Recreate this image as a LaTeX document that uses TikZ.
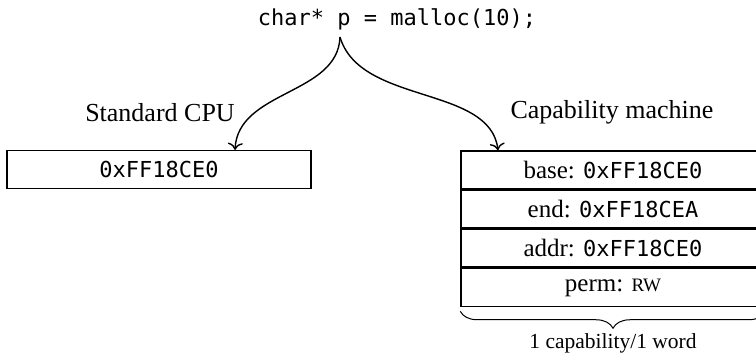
\documentclass[tikz,border=0pt]{standalone}
\usepackage{fontspec}
\setmainfont{Liberation Serif}
\setmonofont{DejaVu Sans Mono}
\usetikzlibrary{arrows.meta,decorations.pathreplacing}
\newcommand\cmono[1]{{\fontsize{22}{26}\ttfamily #1}}
\begin{document}
\begin{tikzpicture}[x=1pt,y=-1pt,
  serif/.style={font=\fontsize{26}{29}\selectfont},
  mono/.style={font=\fontsize{22}{26}\ttfamily},
  cell/.style={draw,line width=1.5pt,minimum width=304pt,minimum height=37.75pt,inner sep=0pt,font=\fontsize{25}{28}\selectfont},
  flow/.style={line width=1.4pt,-{Computer Modern Rightarrow[width=15pt,length=7pt]}},
  bracestyle/.style={line width=1pt,decorate,decoration={brace,mirror,amplitude=17pt}}]
\useasboundingbox (0,0) rectangle (756,355);
\node[mono] (code) at (397,19) {char* p = malloc(10);};
\coordinate (src) at (340,37);
\node[serif] (stdlbl) at (160,113) {Standard CPU};
\node[serif] (caplbl) at (612,112) {Capability machine};
\node[cell,font=\fontsize{22}{26}\ttfamily] (lbox) at (159,169.5) {0xFF18CE0};
\node[cell] (r1) at (613,169.875) {base: \cmono{0xFF18CE0}};
\node[cell,anchor=north] (r2) at (r1.south) {end: \cmono{0xFF18CEA}};
\node[cell,anchor=north] (r3) at (r2.south) {addr: \cmono{0xFF18CE0}};
\node[cell,anchor=north] (r4) at (r3.south) {perm: {\fontsize{19}{22}\selectfont RW}};
\draw[flow] (src) .. controls (338,95) and (238,90) .. ([xshift=76pt]lbox.north);
\draw[flow] (src) .. controls (360,105) and (490,85) .. ([xshift=-115pt]r1.north);
\draw[bracestyle] ([yshift=-4pt]r4.south west) -- ([yshift=-4pt]r4.south east) node[midway,below=19pt,font=\fontsize{21.5}{24}\selectfont] (wlbl) {1 capability/1 word};
\end{tikzpicture}
\end{document}
